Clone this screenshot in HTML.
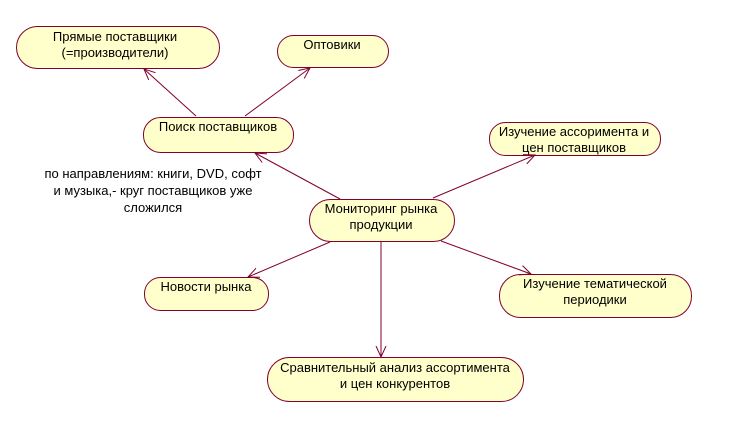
<!DOCTYPE html>
<html><head><meta charset="utf-8"><style>
html,body{margin:0;padding:0;background:#fff}
svg text{font-family:"Liberation Sans","DejaVu Sans",sans-serif;font-size:13px;fill:#000}
</style></head><body>
<svg width="735" height="420" xmlns="http://www.w3.org/2000/svg">
<defs><marker id="a" markerWidth="12" markerHeight="12" refX="11" refY="6" orient="auto" markerUnits="userSpaceOnUse"><path d="M0,1 L11,6 L0,11" fill="none" stroke="#800030" stroke-width="1"/></marker></defs>
<g fill="#ffffcc" stroke="#800030" stroke-width="1">
<rect x="16.5" y="26.5" width="203" height="42" rx="21"/>
<rect x="277.5" y="35.5" width="111" height="32" rx="16"/>
<rect x="143.5" y="117.5" width="150" height="35" rx="17"/>
<rect x="489.5" y="122.5" width="171" height="33" rx="16"/>
<rect x="309.5" y="199.5" width="145" height="42" rx="21"/>
<rect x="144.5" y="277.5" width="124" height="33" rx="16"/>
<rect x="499.5" y="274.5" width="192" height="43" rx="21"/>
<rect x="267.5" y="357.5" width="256" height="44" rx="22"/>
</g>
<g stroke="#800030" stroke-width="1" fill="none" marker-end="url(#a)">
<line x1="196" y1="116" x2="144" y2="69"/>
<line x1="245" y1="116" x2="310" y2="68"/>
<line x1="340" y1="199" x2="255" y2="153"/>
<line x1="433" y1="198" x2="535" y2="155"/>
<line x1="330" y1="242" x2="248" y2="277"/>
<line x1="441" y1="241" x2="531" y2="274"/>
<line x1="381" y1="242" x2="381" y2="357"/>
</g>
<g text-anchor="middle">
<text x="115" y="41">Прямые поставщики</text>
<text x="115" y="57">(=производители)</text>
<text x="332" y="49">Оптовики</text>
<text x="218" y="131">Поиск поставщиков</text>
<text x="574" y="136">Изучение ассоримента и</text>
<text x="574" y="152">цен поставщиков</text>
<text x="381" y="213">Мониторинг рынка</text>
<text x="381" y="229">продукции</text>
<text x="206" y="291">Новости рынка</text>
<text x="595" y="288">Изучение тематической</text>
<text x="595" y="304">периодики</text>
<text x="395" y="372">Сравнительный анализ ассортимента</text>
<text x="395" y="388">и цен конкурентов</text>
<text x="153" y="178">по направлениям: книги, DVD, софт</text>
<text x="153" y="195">и музыка,- круг поставщиков уже</text>
<text x="153" y="212">сложился</text>
</g>
</svg>
</body></html>
